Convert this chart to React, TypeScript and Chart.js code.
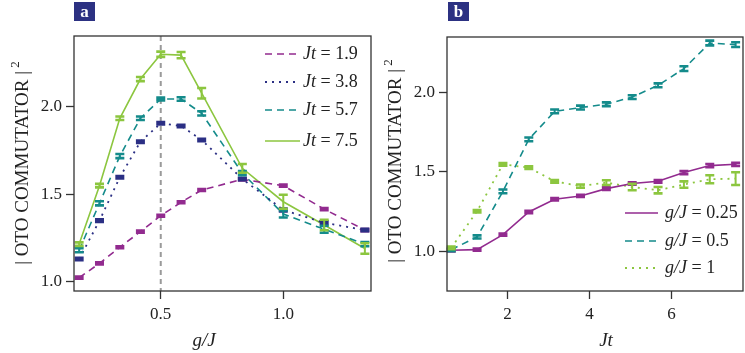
import React, { useEffect, useRef } from "react";
import { Chart, registerables } from "chart.js";
Chart.register(...registerables);

const SERIF = '"Liberation Serif", "DejaVu Serif", serif';
const INK = "#222222";

// ---------- Panel a data ----------
const gJ = [0.167, 0.25, 0.333, 0.417, 0.5, 0.583, 0.667, 0.833, 1.0, 1.167, 1.333];
const jt19 = [1.023, 1.105, 1.197, 1.286, 1.377, 1.454, 1.524, 1.585, 1.549, 1.415, 1.295];
const jt38 = [1.13, 1.349, 1.597, 1.8, 1.905, 1.89, 1.81, 1.587, 1.41, 1.337, 1.295];
const jt57 = [1.18, 1.448, 1.718, 1.934, 2.044, 2.044, 1.962, 1.62, 1.387, 1.3, 1.215];
const jt75 = [1.215, 1.549, 1.934, 2.158, 2.3, 2.295, 2.077, 1.648, 1.457, 1.324, 1.19];
const err19 = [0.006, 0.006, 0.006, 0.006, 0.006, 0.006, 0.006, 0.006, 0.006, 0.006, 0.006];
const err38 = [0.007, 0.007, 0.007, 0.007, 0.007, 0.007, 0.007, 0.007, 0.008, 0.008, 0.007];
const err57 = [0.012, 0.012, 0.012, 0.01, 0.008, 0.01, 0.012, 0.012, 0.02, 0.02, 0.012];
const err75 = [0.01, 0.01, 0.01, 0.012, 0.015, 0.018, 0.03, 0.025, 0.04, 0.03, 0.03];
const legendA = ["1.9", "3.8", "5.7", "7.5"];
const xTicksA = [0.5, 1.0];
const yTicksA = [1.0, 1.5, 2.0];

// ---------- Panel b data ----------
const jtB = [0.63, 1.26, 1.89, 2.52, 3.15, 3.78, 4.41, 5.04, 5.67, 6.3, 6.93, 7.56];
const g025 = [1.006, 1.01, 1.105, 1.247, 1.327, 1.348, 1.394, 1.426, 1.44, 1.495, 1.539, 1.547];
const g05 = [1.01, 1.09, 1.377, 1.704, 1.88, 1.904, 1.925, 1.97, 2.044, 2.149, 2.31, 2.3];
const g1 = [1.021, 1.252, 1.547, 1.526, 1.44, 1.41, 1.432, 1.404, 1.384, 1.42, 1.453, 1.457];
const err025 = [0.007, 0.007, 0.007, 0.007, 0.007, 0.007, 0.008, 0.008, 0.008, 0.01, 0.01, 0.01];
const err05 = [0.01, 0.01, 0.012, 0.012, 0.012, 0.012, 0.012, 0.012, 0.012, 0.015, 0.015, 0.015];
const err1 = [0.008, 0.008, 0.008, 0.008, 0.008, 0.01, 0.015, 0.02, 0.02, 0.02, 0.025, 0.04];
const legendB = ["0.25", "0.5", "1"];
const xTicksB = [2, 4, 6];
const yTicksB = [1.0, 1.5, 2.0];

const PURPLE = "#922b8f";
const NAVY = "#2b2f84";
const TEAL = "#148b8b";
const GREEN = "#8cc63f";
const LABEL_BG = "#2c3182";

type Series = { values: number[]; errors: number[]; color: string; dash: number[]; width: number };

type Cfg = {
  xs: number[];
  series: Series[];
  xMin: number; xMax: number; yMin: number; yMax: number;
  xTicks: number[]; yTicks: number[];
  xFmt: (v: number) => string;
  yWidth: number; xHeight: number; padRight: number; padTop: number;
  panel: { letter: string; x: number; y: number; w: number; h: number };
  yTitle: { x: number; y: number };
  xTitle: { text: string; x: number; y: number };
  legend: { x0: number; x1: number; tx: number; ys: number[]; prefix: string; values: string[] };
  vline?: number;
};

function makeChart(canvas: HTMLCanvasElement, cfg: Cfg) {
  const plugin = {
    id: "custom",
    beforeDatasetsDraw(chart: any) {
      if (cfg.vline === undefined) return;
      const { ctx, chartArea, scales } = chart;
      const x = scales.x.getPixelForValue(cfg.vline);
      ctx.save();
      ctx.strokeStyle = "#9a9a9a";
      ctx.lineWidth = 2;
      ctx.setLineDash([5, 4]);
      ctx.beginPath();
      ctx.moveTo(x, chartArea.top);
      ctx.lineTo(x, chartArea.bottom);
      ctx.stroke();
      ctx.restore();
    },
    afterDatasetsDraw(chart: any) {
      const { ctx, scales } = chart;
      ctx.save();
      cfg.series.forEach((s) => {
        ctx.strokeStyle = s.color;
        ctx.setLineDash([]);
        cfg.xs.forEach((xv, i) => {
          const x = scales.x.getPixelForValue(xv);
          const y0 = scales.y.getPixelForValue(s.values[i] - s.errors[i]);
          const y1 = scales.y.getPixelForValue(s.values[i] + s.errors[i]);
          ctx.lineWidth = 2;
          ctx.beginPath();
          ctx.moveTo(x, y0);
          ctx.lineTo(x, y1);
          ctx.stroke();
          ctx.lineWidth = 2.6;
          ctx.beginPath();
          ctx.moveTo(x - 4.5, y0);
          ctx.lineTo(x + 4.5, y0);
          ctx.moveTo(x - 4.5, y1);
          ctx.lineTo(x + 4.5, y1);
          ctx.stroke();
        });
      });
      ctx.restore();
    },
    afterDraw(chart: any) {
      const { ctx, chartArea } = chart;
      ctx.save();
      // frame
      ctx.strokeStyle = "#333";
      ctx.lineWidth = 1.3;
      ctx.setLineDash([]);
      ctx.strokeRect(chartArea.left, chartArea.top, chartArea.right - chartArea.left, chartArea.bottom - chartArea.top);
      // legend
      const L = cfg.legend;
      L.values.forEach((v, i) => {
        const s = cfg.series[i];
        const y = L.ys[i];
        ctx.strokeStyle = s.color;
        ctx.lineWidth = s.width;
        ctx.setLineDash(s.dash);
        ctx.beginPath();
        ctx.moveTo(L.x0, y);
        ctx.lineTo(L.x1, y);
        ctx.stroke();
        ctx.setLineDash([]);
        ctx.fillStyle = INK;
        ctx.textBaseline = "middle";
        ctx.textAlign = "left";
        ctx.font = `italic 18px ${SERIF}`;
        ctx.fillText(L.prefix, L.tx, y);
        const w = ctx.measureText(L.prefix).width;
        ctx.font = `18px ${SERIF}`;
        ctx.fillText(` = ${v}`, L.tx + w, y);
      });
      // panel label
      const P = cfg.panel;
      ctx.fillStyle = LABEL_BG;
      ctx.fillRect(P.x, P.y, P.w, P.h);
      ctx.fillStyle = "#ffffff";
      ctx.font = `bold 17px ${SERIF}`;
      ctx.textAlign = "center";
      ctx.textBaseline = "middle";
      ctx.fillText(P.letter, P.x + P.w / 2, P.y + P.h / 2 + 1);
      // x title
      ctx.fillStyle = INK;
      ctx.font = `italic 19px ${SERIF}`;
      ctx.fillText(cfg.xTitle.text, cfg.xTitle.x, cfg.xTitle.y);
      // y title
      ctx.translate(cfg.yTitle.x, cfg.yTitle.y);
      ctx.rotate(-Math.PI / 2);
      ctx.font = `19px ${SERIF}`;
      ctx.textBaseline = "alphabetic";
      ctx.textAlign = "left";
      const main = "| OTO COMMUTATOR |";
      const mw = ctx.measureText(main).width;
      ctx.font = `13px ${SERIF}`;
      const sw = ctx.measureText(" 2").width;
      const start = -(mw + sw) / 2;
      ctx.font = `19px ${SERIF}`;
      ctx.fillText(main, start, 0);
      ctx.font = `13px ${SERIF}`;
      ctx.fillText(" 2", start + mw, -9);
      ctx.restore();
    },
  };

  const tickFont = { family: SERIF, size: 17 };
  return new Chart(canvas, {
    type: "line",
    data: {
      datasets: cfg.series.map((s) => ({
        data: cfg.xs.map((x, i) => ({ x, y: s.values[i] })),
        borderColor: s.color,
        borderWidth: s.width,
        borderDash: s.dash,
        pointRadius: 0,
        fill: false,
        tension: 0,
      })),
    },
    options: {
      animation: false,
      responsive: false,
      devicePixelRatio: 1,
      events: [],
      layout: { padding: { left: 0, right: cfg.padRight, top: cfg.padTop, bottom: 0 } },
      plugins: { legend: { display: false }, tooltip: { enabled: false }, title: { display: false } },
      scales: {
        x: {
          type: "linear",
          min: cfg.xMin,
          max: cfg.xMax,
          afterBuildTicks: (axis: any) => {
            axis.ticks = cfg.xTicks.map((v) => ({ value: v }));
          },
          afterFit: (axis: any) => {
            axis.height = cfg.xHeight;
          },
          ticks: { callback: (v: any) => cfg.xFmt(Number(v)), font: tickFont, color: INK, padding: 5, maxRotation: 0, autoSkip: false },
          grid: { drawOnChartArea: false, drawTicks: true, tickLength: 8, tickColor: "#333", tickWidth: 1.3 },
          border: { display: false },
        },
        y: {
          type: "linear",
          min: cfg.yMin,
          max: cfg.yMax,
          afterBuildTicks: (axis: any) => {
            axis.ticks = cfg.yTicks.map((v) => ({ value: v }));
          },
          afterFit: (axis: any) => {
            axis.width = cfg.yWidth;
          },
          ticks: { callback: (v: any) => Number(v).toFixed(1), font: tickFont, color: INK, padding: 4, autoSkip: false },
          grid: { drawOnChartArea: false, drawTicks: true, tickLength: 8, tickColor: "#333", tickWidth: 1.3 },
          border: { display: false },
        },
      },
    } as any,
    plugins: [plugin],
  });
}

export default function App() {
  const refA = useRef<HTMLCanvasElement>(null);
  const refB = useRef<HTMLCanvasElement>(null);

  useEffect(() => {
    const a = makeChart(refA.current!, {
      xs: gJ,
      series: [
        { values: jt19, errors: err19, color: PURPLE, dash: [7, 5], width: 1.6 },
        { values: jt38, errors: err38, color: NAVY, dash: [2, 5], width: 1.8 },
        { values: jt57, errors: err57, color: TEAL, dash: [7, 5], width: 1.6 },
        { values: jt75, errors: err75, color: GREEN, dash: [], width: 1.6 },
      ],
      xMin: 0.146, xMax: 1.358, yMin: 0.947, yMax: 2.404,
      xTicks: xTicksA, yTicks: yTicksA,
      xFmt: (v) => v.toFixed(1),
      yWidth: 74, xHeight: 62, padRight: 1, padTop: 36,
      panel: { letter: "a", x: 74, y: 2, w: 21, h: 19 },
      yTitle: { x: 28, y: 163 },
      xTitle: { text: "g/J", x: 204, y: 341 },
      legend: { x0: 265, x1: 300, tx: 303, ys: [54, 82, 110, 141], prefix: "Jt", values: legendA },
      vline: 0.5,
    });
    const b = makeChart(refB.current!, {
      xs: jtB,
      series: [
        { values: g025, errors: err025, color: PURPLE, dash: [], width: 1.6 },
        { values: g05, errors: err05, color: TEAL, dash: [7, 5], width: 1.6 },
        { values: g1, errors: err1, color: GREEN, dash: [2, 5], width: 1.8 },
      ],
      xMin: 0.527, xMax: 7.74, yMin: 0.75, yMax: 2.348,
      xTicks: xTicksB, yTicks: yTicksB,
      xFmt: (v) => String(Math.round(v)),
      yWidth: 75, xHeight: 62, padRight: 2, padTop: 37,
      panel: { letter: "b", x: 76, y: 2, w: 21, h: 19 },
      yTitle: { x: 29, y: 161 },
      xTitle: { text: "Jt", x: 234, y: 341 },
      legend: { x0: 253, x1: 286, tx: 293, ys: [213, 241, 268], prefix: "g/J", values: legendB },
    });
    return () => {
      a.destroy();
      b.destroy();
    };
  }, []);

  return (
    <div style={{ position: "absolute", left: 0, top: 0, width: 745, height: 353, background: "#ffffff" }}>
      <canvas ref={refA} width={372} height={353} style={{ position: "absolute", left: 0, top: 0 }} />
      <canvas ref={refB} width={373} height={353} style={{ position: "absolute", left: 372, top: 0 }} />
    </div>
  );
}
